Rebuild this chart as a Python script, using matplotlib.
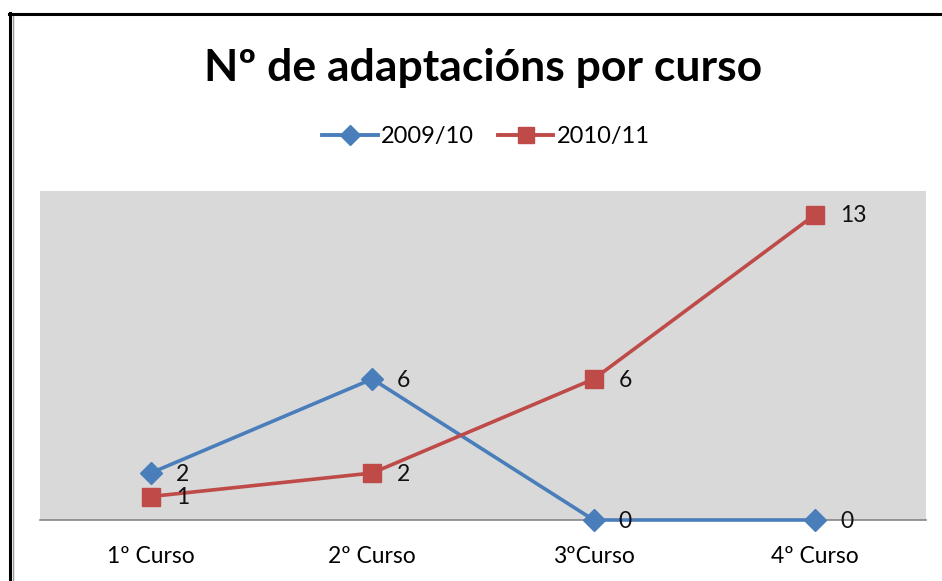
import matplotlib
matplotlib.use("Agg")
import matplotlib.pyplot as plt
from matplotlib.lines import Line2D

categories = ["1º Curso", "2º Curso", "3ºCurso", "4º Curso"]
series_names = ["2009/10", "2010/11"]
values_2009 = [2, 6, 0, 0]
values_2010 = [1, 2, 6, 13]
title = "Nº de adaptacións por curso"

plt.rcParams['font.family'] = ['Lato', 'DejaVu Sans']

fig = plt.figure(figsize=(9.42, 5.81), dpi=100)
W, H = 942, 581
ax = fig.add_axes([40 / W, 1 - 520 / H, (926 - 40) / W, (520 - 191) / H])
ax.set_facecolor("#d9d9d9")

blue = "#4a7ebb"
red = "#be4b48"
x = list(range(len(categories)))
ax.plot(x, values_2009, color=blue, lw=2.6, marker="D", ms=11, mec=blue, mfc=blue, zorder=3, clip_on=False)
ax.plot(x, values_2010, color=red, lw=2.6, marker="s", ms=13, mec=red, mfc=red, zorder=3, clip_on=False)

for xi, v in zip(x, values_2009):
    ax.annotate(str(v), (xi, v), xytext=(18, -1), textcoords="offset points",
                va="center", ha="left", fontsize=16.5, color="#111111")
for xi, v in zip(x, values_2010):
    ax.annotate(str(v), (xi, v), xytext=(18, -1), textcoords="offset points",
                va="center", ha="left", fontsize=16.5, color="#111111")

ax.set_xlim(-0.5, len(categories) - 0.5)
ax.set_ylim(0, 14)
ax.set_yticks([])
ax.set_xticks(x)
ax.set_xticklabels(categories, fontsize=16.5)
ax.tick_params(axis="x", length=0, pad=19)
for s in ["top", "right", "left"]:
    ax.spines[s].set_visible(False)
ax.spines["bottom"].set_color("#868686")
ax.spines["bottom"].set_linewidth(1.2)

fig.text(483 / W, 1 - 68 / H, title, ha="center", va="center", fontsize=32, fontweight="bold")

handles = [Line2D([], [], color=blue, lw=2.8, marker="D", ms=10),
           Line2D([], [], color=red, lw=2.8, marker="s", ms=12)]
fig.legend(handles, series_names, loc="center", bbox_to_anchor=(486 / W, 1 - 137 / H),
           ncol=2, frameon=False, fontsize=17, handlelength=2.35, handletextpad=0.15,
           columnspacing=1.0)

# border lines (left and top)
fig.add_artist(Line2D([9.5 / W, 9.5 / W], [0, 1 - 13 / H], color="black", lw=2.2, transform=fig.transFigure))
fig.add_artist(Line2D([12.5 / W, 12.5 / W], [0, 1 - 15 / H], color="#999999", lw=1.0, transform=fig.transFigure))
fig.add_artist(Line2D([8.5 / W, 1], [1 - 13.5 / H, 1 - 13.5 / H], color="black", lw=2.2, transform=fig.transFigure))

fig.savefig("out.png", dpi=100)
